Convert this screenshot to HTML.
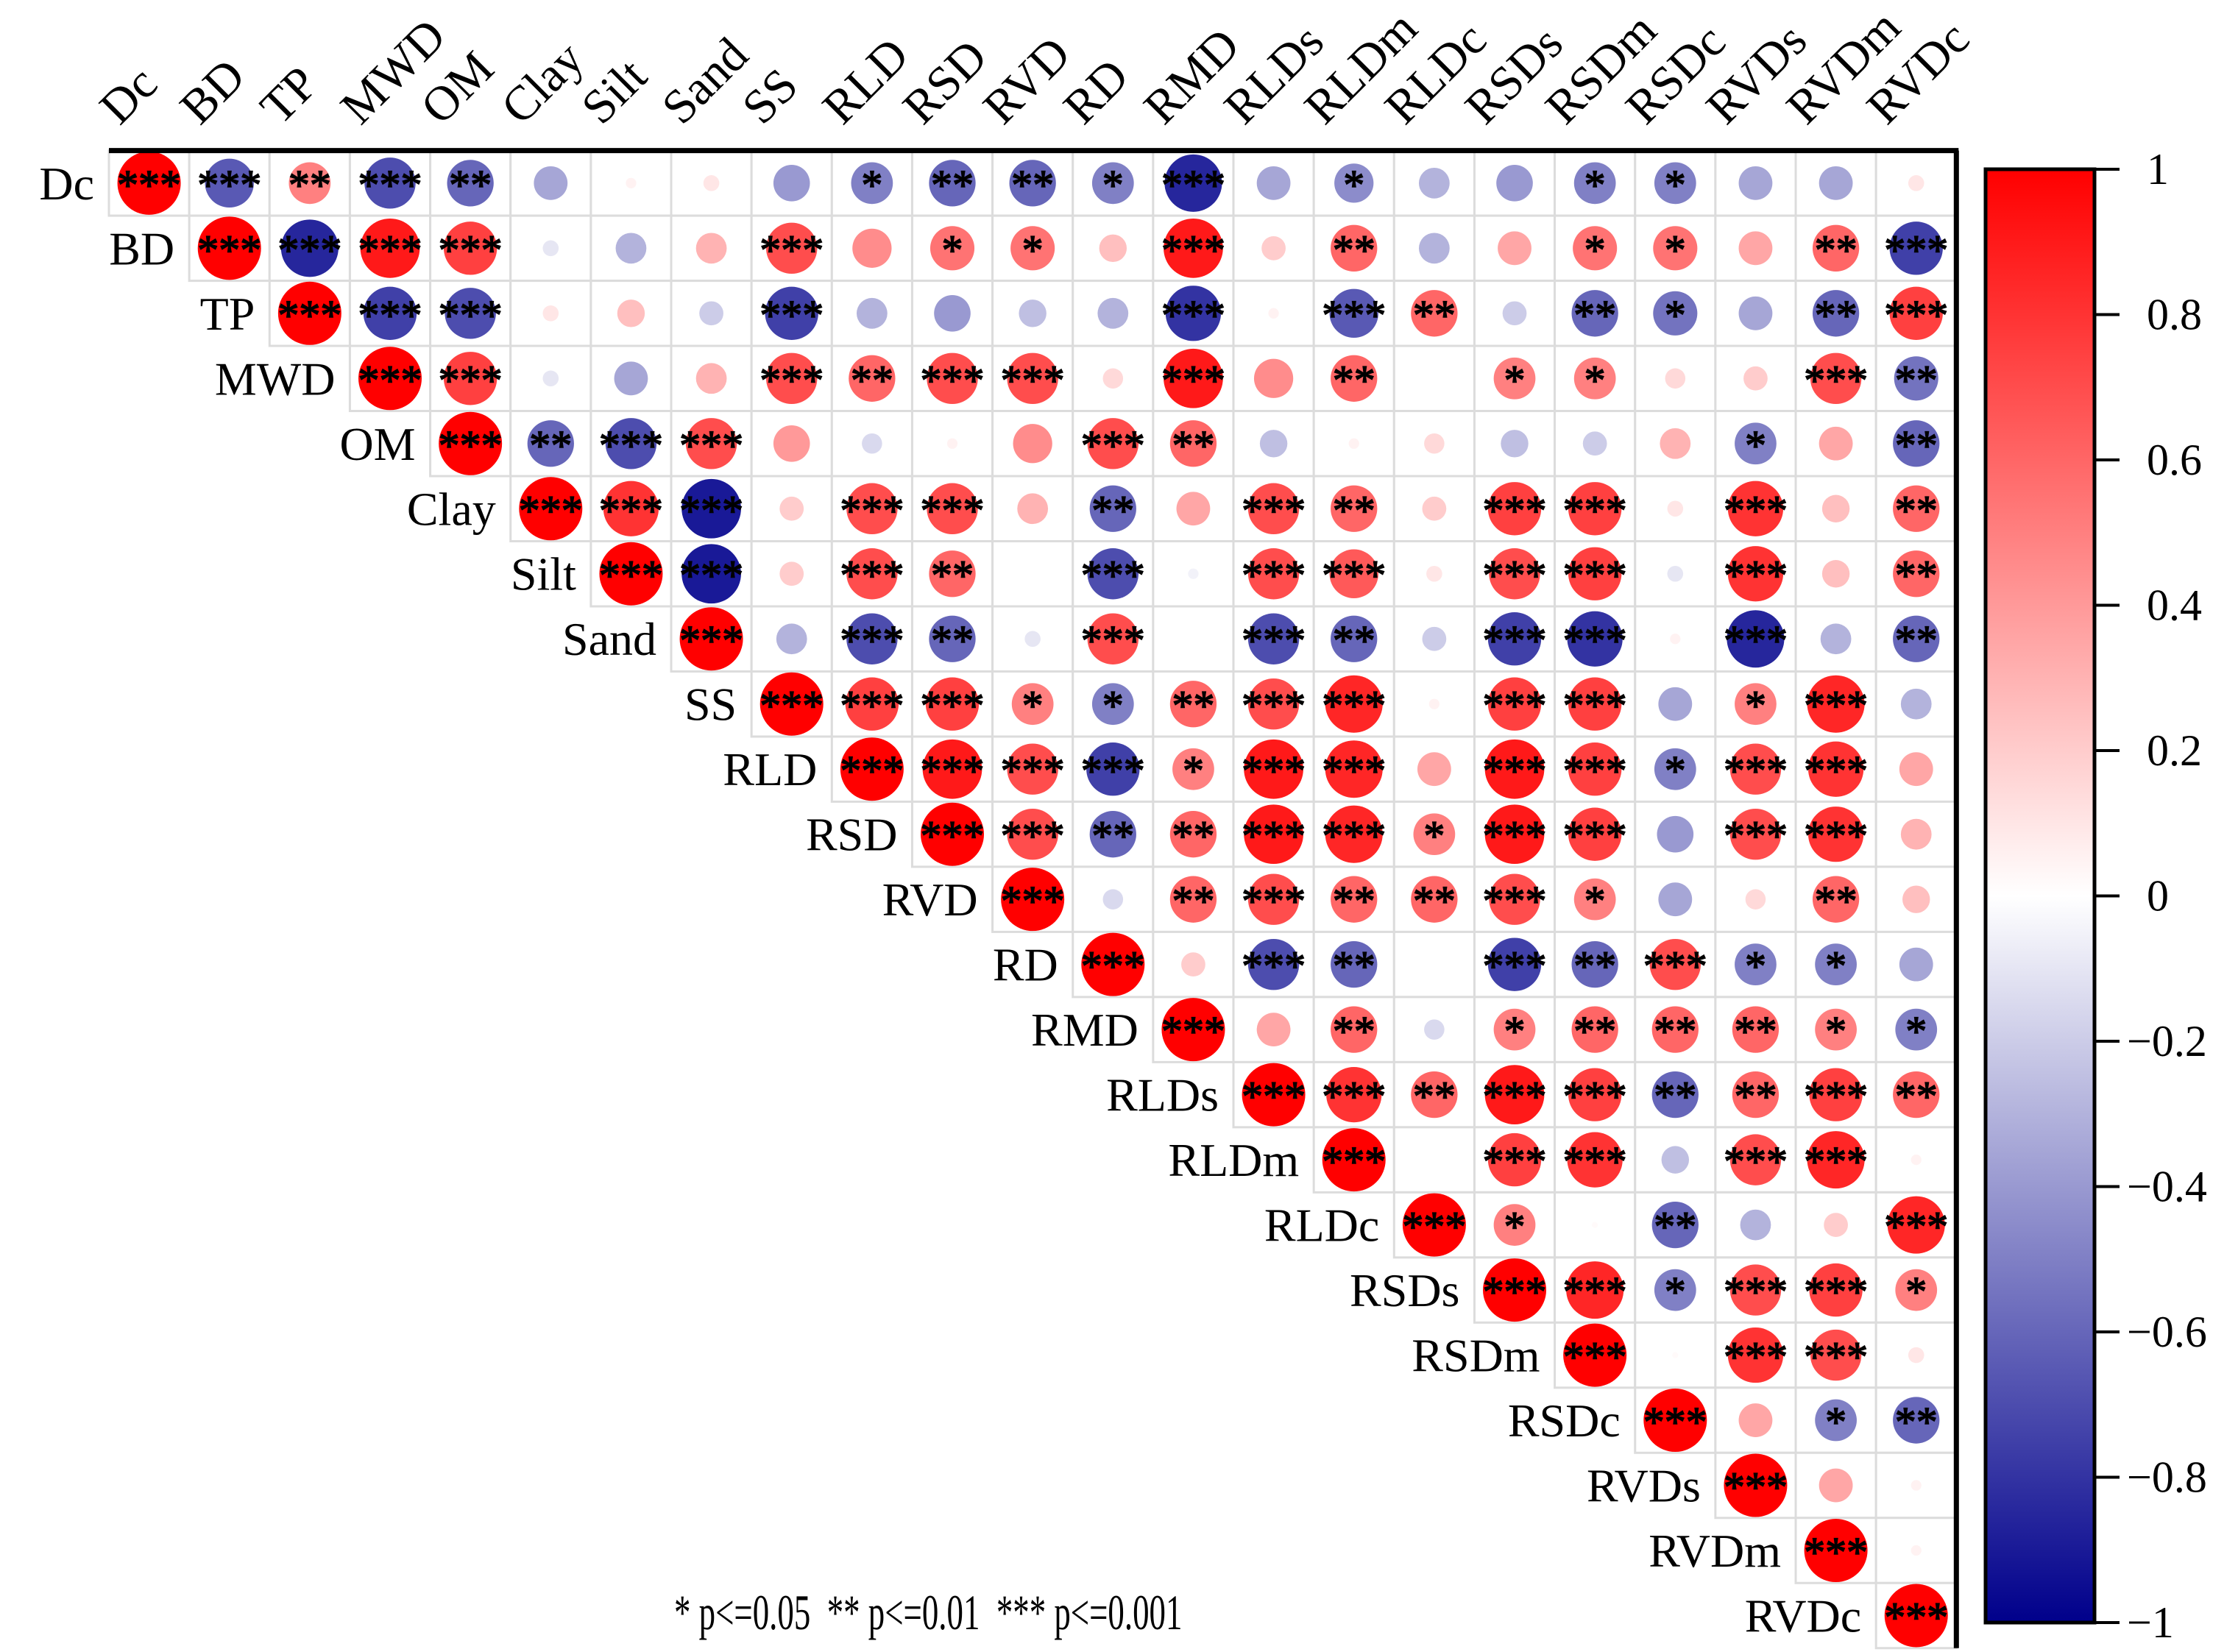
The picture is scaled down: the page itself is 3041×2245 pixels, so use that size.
<!DOCTYPE html>
<html><head><meta charset="utf-8"><style>
html,body{margin:0;padding:0;background:#fff;}
svg{display:block;font-family:"Liberation Serif",serif;}
</style></head><body>
<svg id="chart" width="3041" height="2245" viewBox="0 0 3041 2245" xmlns="http://www.w3.org/2000/svg">
<defs><linearGradient id="cbg" x1="0" y1="0" x2="0" y2="1">
<stop offset="0" stop-color="#ff0000"/><stop offset="0.5" stop-color="#ffffff"/><stop offset="1" stop-color="#00008b"/>
</linearGradient></defs>
<g id="cells"></g>
<g id="labels"></g>
<g id="cbar"></g>
<text x="0" y="0" transform="translate(916,2214) scale(0.66,1)" font-size="68" fill="#000" xml:space="preserve">* p&lt;=0.05  ** p&lt;=0.01  *** p&lt;=0.001</text>
</svg>
<script>
const variables = ["Dc","BD","TP","MWD","OM","Clay","Silt","Sand","SS","RLD","RSD","RVD","RD","RMD","RLDs","RLDm","RLDc","RSDs","RSDm","RSDc","RVDs","RVDm","RVDc"];
// each row starts at diagonal; entries "value+stars"
const rows = [
["1***","-0.65***","0.5**","-0.7***","-0.6**","-0.35","0.05","0.1","-0.4","-0.5*","-0.6**","-0.6**","-0.5*","-0.85***","-0.35","-0.45*","-0.3","-0.4","-0.5*","-0.5*","-0.35","-0.35","0.1"],
["1***","-0.85***","0.9***","0.75***","-0.1","-0.3","0.3","0.7***","0.45","0.55*","0.55*","0.25","0.9***","0.2","0.6**","-0.3","0.35","0.55*","0.55*","0.35","0.6**","-0.75***"],
["1***","-0.75***","-0.7***","0.1","0.25","-0.2","-0.75***","-0.3","-0.4","-0.25","-0.3","-0.8***","0.05","-0.65***","0.6**","-0.2","-0.6**","-0.55*","-0.35","-0.6**","0.75***"],
["1***","0.75***","-0.1","-0.35","0.3","0.7***","0.6**","0.7***","0.7***","0.15","0.9***","0.45","0.6**","0","0.5*","0.5*","0.15","0.2","0.7***","-0.55**"],
["1***","-0.6**","-0.7***","0.7***","0.4","-0.15","0.05","0.45","0.7***","0.6**","-0.25","0.05","0.15","-0.25","-0.2","0.3","-0.5*","0.35","-0.6**"],
["1***","0.8***","-0.9***","0.2","0.7***","0.7***","0.3","-0.6**","0.35","0.7***","0.6**","0.2","0.75***","0.75***","0.1","0.8***","0.25","0.6**"],
["1***","-0.9***","0.2","0.7***","0.6**","0","-0.7***","-0.05","0.7***","0.65***","0.1","0.7***","0.75***","-0.1","0.8***","0.25","0.6**"],
["1***","-0.3","-0.7***","-0.6**","-0.1","0.7***","0","-0.7***","-0.6**","-0.2","-0.75***","-0.8***","0.05","-0.85***","-0.3","-0.6**"],
["1***","0.75***","0.75***","0.5*","-0.5*","0.6**","0.7***","0.85***","0.05","0.75***","0.75***","-0.35","0.5*","0.85***","-0.3"],
["1***","0.9***","0.7***","-0.75***","0.5*","0.9***","0.85***","0.35","0.9***","0.75***","-0.5*","0.7***","0.8***","0.35"],
["1***","0.7***","-0.6**","0.6**","0.9***","0.85***","0.5*","0.9***","0.75***","-0.4","0.7***","0.8***","0.3"],
["1***","-0.15","0.6**","0.7***","0.6**","0.6**","0.7***","0.5*","-0.35","0.15","0.6**","0.25"],
["1***","0.2","-0.7***","-0.6**","0","-0.75***","-0.6**","0.7***","-0.5*","-0.5*","-0.35"],
["1***","0.35","0.6**","-0.15","0.5*","0.6**","0.6**","0.6**","0.5*","-0.5*"],
["1***","0.8***","0.6**","0.9***","0.75***","-0.6**","0.6**","0.75***","0.6**"],
["1***","0","0.75***","0.8***","-0.25","0.7***","0.85***","0.05"],
["1***","0.5*","0.02","-0.6**","-0.3","0.2","0.85***"],
["1***","0.85***","-0.5*","0.7***","0.75***","0.5*"],
["1***","0.02","0.8***","0.7***","0.1"],
["1***","0.35","-0.5*","-0.6**"],
["1***","0.35","0.05"],
["1***","0.05"],
["1***"]
];
const cbTicks = ["1","0.8","0.6","0.4","0.2","0","\u22120.2","\u22120.4","\u22120.6","\u22120.8","\u22121"];
const cbTickValues = [1,0.8,0.6,0.4,0.2,0,-0.2,-0.4,-0.6,-0.8,-1];

const NS="http://www.w3.org/2000/svg";
const x0=148, cw=56.0*1.949, y0=204.6, ch=45.4*1.949;
const xPos=i=>x0+i*cw, yPos=i=>y0+i*ch;
function mk(tag,attrs,parent){const e=document.createElementNS(NS,tag);for(const k in attrs)e.setAttribute(k,attrs[k]);parent.appendChild(e);return e;}
function color(v){
  let r,g,b;
  if(v>=0){r=255;g=Math.round(255*(1-v));b=g;}
  else{const t=-v;r=Math.round(255*(1-t));g=r;b=Math.round(255-(255-139)*t);}
  return `rgb(${r},${g},${b})`;
}
const cells=document.getElementById('cells');
const labels=document.getElementById('labels');
const N=variables.length;
rows.forEach((row,i)=>{
  row.forEach((s,k)=>{
    const j=i+k;
    const m=s.match(/^(-?[\d.]+)(\**)$/);
    const v=parseFloat(m[1]), stars=m[2];
    const rc=mk('rect',{x:xPos(j),y:yPos(i),width:cw,height:ch,fill:'#fff',stroke:'#dcdcdc','stroke-width':3},cells);
    
    
    const cx=xPos(j)+cw/2, cy=yPos(i)+ch/2;
    if(Math.abs(v)>0.001){
      const c=mk('circle',{cx:cx,cy:cy,r:43*Math.pow(Math.abs(v),0.6),fill:color(v)},cells);
      
      
    }
    if(stars){
      const t=mk('text',{x:cx,y:cy+22,'text-anchor':'middle','font-size':58,fill:'#000',stroke:'#000','stroke-width':1.5},cells);
      t.textContent=stars;
      
      
    }
  });
  const rl=mk('text',{x:xPos(i)-20,y:yPos(i)+ch/2+22,'text-anchor':'end','font-size':64,fill:'#000'},labels);
  rl.textContent=variables[i];
  
  
  const cxl=xPos(i)+cw/2-40, cyl=172;
  const cl=mk('text',{x:cxl,y:cyl,'font-size':66,fill:'#000',transform:`rotate(-45 ${cxl} ${cyl})`},labels);
  cl.textContent=variables[i];
  
  
});
// frame lines
const right=xPos(N);
const tl=mk('line',{x1:x0,y1:y0,x2:right+3,y2:y0,stroke:'#000','stroke-width':7},cells);


const rl2=mk('line',{x1:right,y1:y0,x2:right,y2:yPos(N),stroke:'#000','stroke-width':7},cells);


// colorbar
const cb=document.getElementById('cbar');
const cbx=2698, cbw=148, cbTop=230, cbBot=2205;
const cbY=v=>cbTop+(1-v)/2*(cbBot-cbTop);
const bar=mk('rect',{x:cbx,y:cbTop,width:cbw,height:cbBot-cbTop,fill:'url(#cbg)',stroke:'#000','stroke-width':5},cb);


cbTickValues.forEach((v,i)=>{
  const y=cbY(v);
  const tk=mk('line',{x1:cbx+cbw,y1:y,x2:cbx+cbw+34,y2:y,stroke:'#000','stroke-width':4},cb);
  
  
  const t=mk('text',{x:v<0?2890:2917,y:y+20,'font-size':60,fill:'#000'},cb);
  t.textContent=cbTicks[i];
  
  
});
</script>
</body></html>
